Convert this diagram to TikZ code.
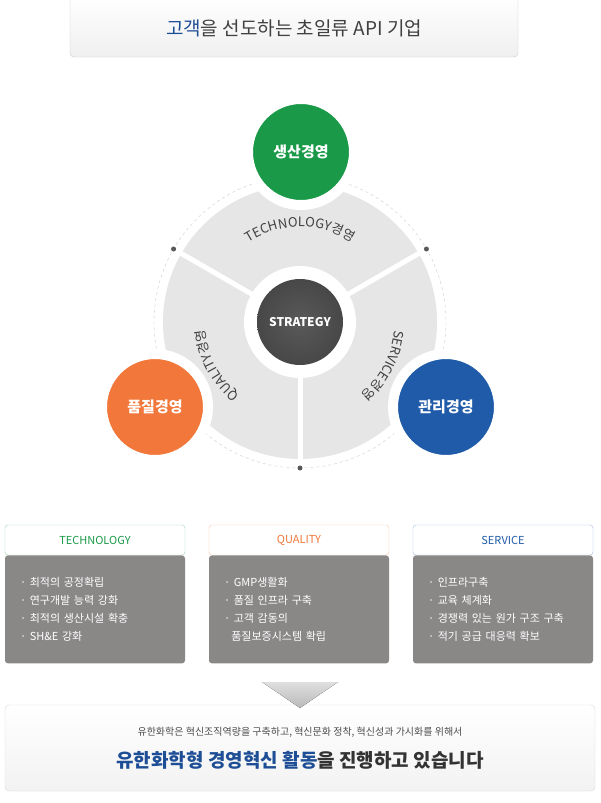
\documentclass[tikz,border=0pt]{standalone}
\usepackage{fontspec}
\setmainfont{Noto Sans CJK KR}
\usetikzlibrary{positioning,decorations.text,shadows}
\definecolor{techgreen}{HTML}{1A9A48}
\definecolor{qualorange}{HTML}{F2773A}
\definecolor{servblue}{HTML}{1F5BA8}
\definecolor{darkblue}{HTML}{1E4E96}
\definecolor{boxgray}{HTML}{8A8787}
\definecolor{wheelgray}{HTML}{E6E6E6}
\begin{document}
\begin{tikzpicture}[x=1pt,y=-1pt,
    every node/.style={align=center},
    bigdisc/.style={circle,minimum size=106pt,draw=white,line width=10pt,text=white,font=\fontsize{15}{17}\selectfont\bfseries},
    head/.style={rectangle,rounded corners=3pt,minimum width=180pt,minimum height=30pt,fill=white,font=\fontsize{11}{13}\selectfont},
    body/.style={rectangle,rounded corners=3pt,minimum width=180pt,minimum height=108pt,text width=150pt,fill=boxgray,text=white,align=left,font=\fontsize{11}{18}\selectfont},
    arctext/.style={decorate,decoration={text along path,text align=center,text={|\fontsize{13}{15}\selectfont\color{black!75}|#1}}}
  ]
  \useasboundingbox (0,0) rectangle (600,803);
  \fill[white] (0,0) rectangle (600,803);
  % title
  \node[rectangle,rounded corners=4pt,draw=gray!40,top color=white,bottom color=gray!12,minimum width=448pt,minimum height=62pt] (title) at (294,26) {};
  \node[font=\fontsize{19}{22}\selectfont,text=black!75] (titletxt) at (294,28) {\textcolor{darkblue}{고객}을 선도하는 초일류 API 기업};
  % wheel
  \coordinate (c) at (300,322);
  \draw[gray!40,dashed] (c) circle[radius=146];
  \fill[wheelgray] (c) circle[radius=137];
  \foreach \a in {30,150,270}
    \draw[white,line width=5pt] (c) -- ++(\a:-140);
  \fill[white] (c) circle[radius=56];
  \node[circle,minimum size=86pt,inner color=gray!70!black,outer color=black!72,text=white,font=\fontsize{12}{14}\selectfont\bfseries] (strategy) at (c) {STRATEGY};
  \foreach \a in {150,30,270}
    \fill[black!65] (c) ++(\a:-146) circle[radius=2.5];
  \path[arctext={TECHNOLOGY경영}] (c) ++(-150:95) arc[start angle=-150, end angle=-30, radius=95];
  \path[arctext={QUALITY경영}] (c) ++(115:95) arc[start angle=115, end angle=190, radius=95];
  \path[arctext={SERVICE경영}] (c) ++(-10:95) arc[start angle=-10, end angle=65, radius=95];
  % discs
  \node[bigdisc,fill=techgreen,drop shadow] (prod) at (301,152) {생산경영};
  \node[bigdisc,fill=qualorange,drop shadow] (qual) at (155,407) {품질경영};
  \node[bigdisc,fill=servblue,drop shadow] (mgmt) at (446,407) {관리경영};
  % columns
  \node[head,draw=techgreen!40,text=techgreen] (techhead) at (95,540) {TECHNOLOGY};
  \node[body,below=0pt of techhead] (techbody) {· 최적의 공정확립\\· 연구개발 능력 강화\\· 최적의 생산시설 확충\\· SH\&E 강화};
  \node[head,draw=qualorange!40,text=qualorange] (qualhead) at (299,540) {QUALITY};
  \node[body,below=0pt of qualhead] (qualbody) {· GMP생활화\\· 품질 인프라 구축\\· 고객 감동의\\\ \ 품질보증시스템 확립};
  \node[head,draw=servblue!40,text=servblue] (servhead) at (503,540) {SERVICE};
  \node[body,below=0pt of servhead] (servbody) {· 인프라구축\\· 교육 체계화\\· 경쟁력 있는 원가 구조 구축\\· 적기 공급 대응력 확보};
  % bottom
  \node[rectangle,rounded corners=4pt,draw=gray!30,top color=white,bottom color=gray!10,minimum width=590pt,minimum height=86pt] (footer) at (300,748) {};
  \fill[top color=gray!25,bottom color=gray!55] (262,682) -- (338,682) -- (300,708) -- cycle;
  \node[font=\fontsize{10}{12}\selectfont,text=black!70] (footsmall) at (300,732) {유한화학은 혁신조직역량을 구축하고, 혁신문화 정착, 혁신성과 가시화를 위해서};
  \node[font=\fontsize{19}{22}\selectfont\bfseries,text=black!80] (footbig) at (300,760) {\textcolor{darkblue}{유한화학형 경영혁신 활동}을 진행하고 있습니다};
\end{tikzpicture}
\end{document}
